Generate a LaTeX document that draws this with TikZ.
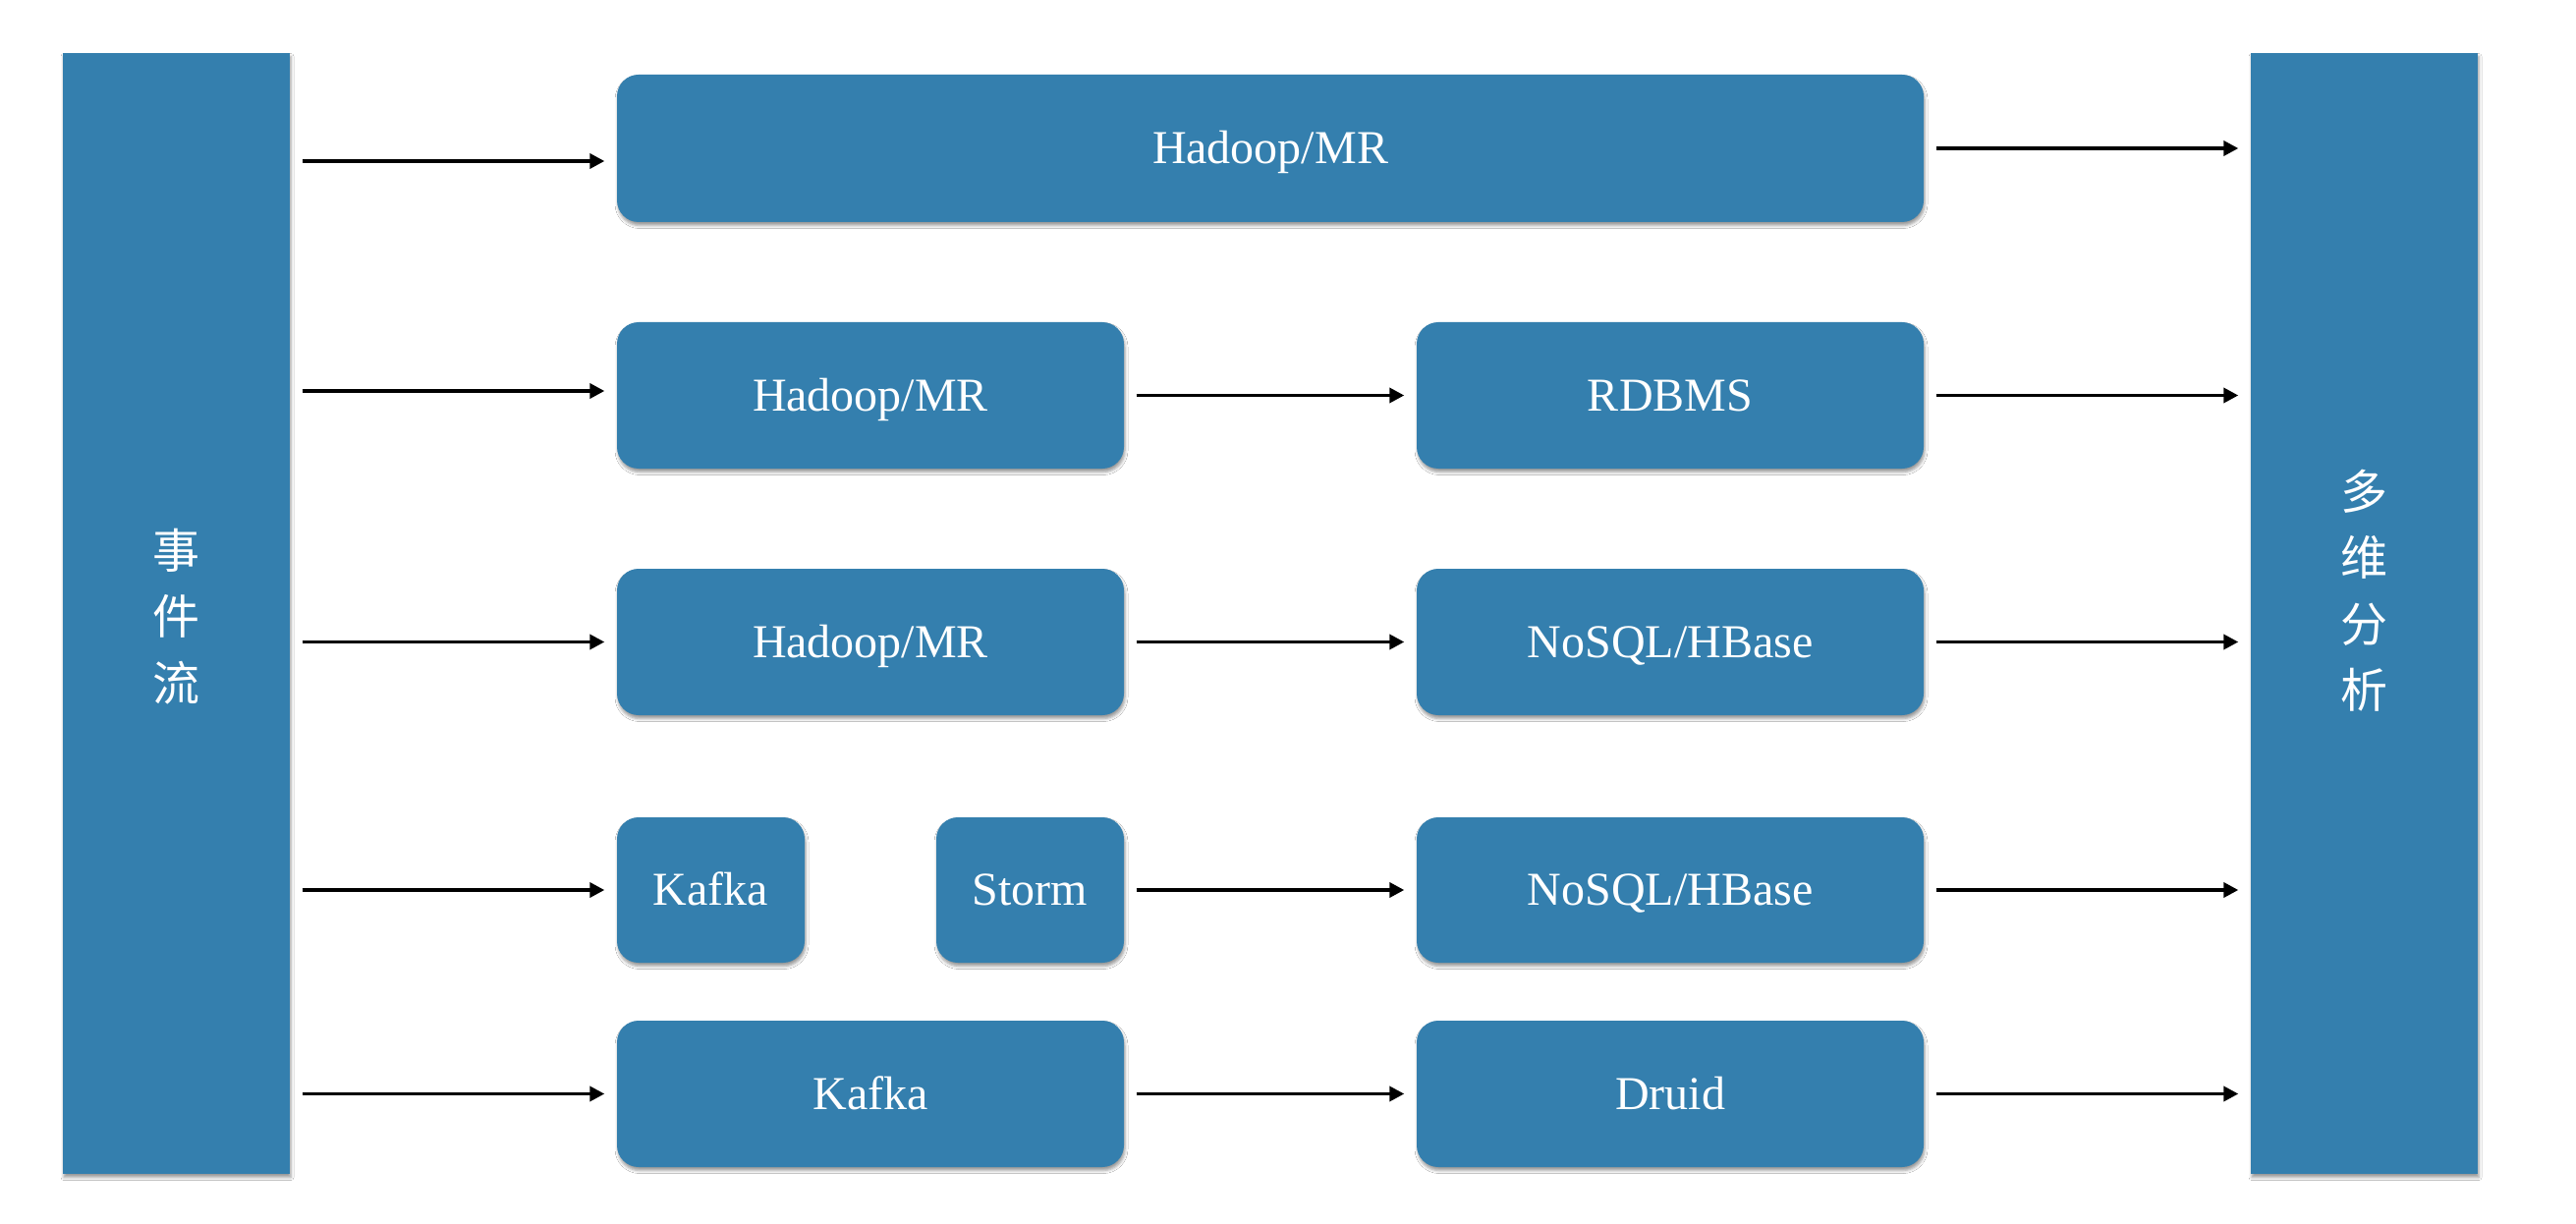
\documentclass[tikz,border=0pt]{standalone}
\usepackage{fontspec}
\setmainfont{Liberation Serif}
\newfontfamily\cjkfont{Noto Sans CJK SC}
\usetikzlibrary{arrows.meta,shadows.blur}
\definecolor{boxblue}{RGB}{52,127,174}
\begin{document}
\begin{tikzpicture}[x=1pt,y=-1pt,
  shd/.style={blur shadow={shadow xshift=1pt, shadow yshift=-3.5pt, shadow blur radius=3pt, shadow opacity=40}},
  blk/.style={shd, fill=boxblue, inner sep=0pt, rounded corners=22pt, text=white,
    font=\fontsize{48pt}{58pt}\selectfont, text height=40pt, text depth=8.2pt, minimum height=149pt},
  bar/.style={shd, fill=boxblue, inner sep=0pt, minimum width=231pt, minimum height=1141pt},
  vlab/.style={text=white, align=center, inner sep=0pt, font=\cjkfont\fontsize{48pt}{67.5pt}\selectfont},
  arr/.style={line width=3.5pt, -{Triangle[length=15pt,width=15pt]}, shorten <=12.5pt, shorten >=12.5pt}
]
\useasboundingbox (0,0) rectangle (2622,1246);
\fill[white] (0,0) rectangle (2622,1246);

% side bars
\node[bar] (ev)  at (179.5,624.5) {};
\node[bar] (ana) at (2406.5,624.5) {};
\node[vlab] (evt)  at (179.5,627.5) {事\\件\\流};
\node[vlab] (anat) at (2406.5,601) {多\\维\\分\\析};

% row 1
\node[blk, minimum width=1330pt, minimum height=150pt] (r1) at (1293,151) {Hadoop/MR};
% row 2
\node[blk, minimum width=516pt] (r2a) at (886,402.5) {Hadoop/MR};
\node[blk, minimum width=516pt] (r2b) at (1700,402.5) {RDBMS};
% row 3
\node[blk, minimum width=516pt] (r3a) at (886,653.5) {Hadoop/MR};
\node[blk, minimum width=516pt] (r3b) at (1700,653.5) {NoSQL/HBase};
% row 4
\node[blk, minimum width=191pt, minimum height=148pt] (k4) at (723.5,906) {Kafka};
\node[blk, minimum width=191pt, minimum height=148pt] (s4) at (1048.5,906) {Storm};
\node[blk, minimum width=516pt, minimum height=148pt] (r4b) at (1700,906) {NoSQL/HBase};
% row 5
\node[blk, minimum width=516pt] (r5a) at (886,1113.5) {Kafka};
\node[blk, minimum width=516pt] (r5b) at (1700,1113.5) {Druid};

% entry points on the left
\coordinate (in1) at ([yshift=-13pt]r1.west);
\coordinate (in2) at ([yshift=4.5pt]r2a.west);

% arrows from event stream
\draw[arr] (ev.east |- in1) -- (in1);
\draw[arr] (ev.east |- in2) -- (in2);
\draw[arr] (ev.east |- r3a.west) -- (r3a.west);
\draw[arr] (ev.east |- k4.west) -- (k4.west);
\draw[arr] (ev.east |- r5a.west) -- (r5a.west);

% middle arrows
\draw[arr] (r2a.east) -- (r2b.west);
\draw[arr] (r3a.east) -- (r3b.west);
\draw[arr] (s4.east) -- (r4b.west);
\draw[arr] (r5a.east) -- (r5b.west);

% arrows to analysis
\draw[arr] (r1.east) -- (ana.west |- r1.east);
\draw[arr] (r2b.east) -- (ana.west |- r2b.east);
\draw[arr] (r3b.east) -- (ana.west |- r3b.east);
\draw[arr] (r4b.east) -- (ana.west |- r4b.east);
\draw[arr] (r5b.east) -- (ana.west |- r5b.east);
\end{tikzpicture}
\end{document}
